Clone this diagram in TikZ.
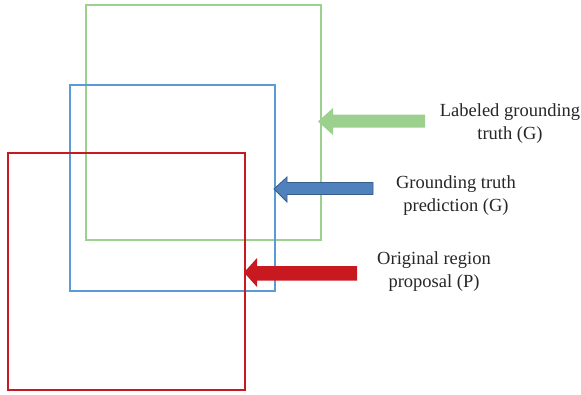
\documentclass[tikz,border=0pt]{standalone}
\usepackage{fontspec}
\setmainfont{Liberation Serif}
\definecolor{gtgreen}{RGB}{155,208,143}
\definecolor{predblue}{RGB}{91,155,213}
\definecolor{arrblue}{RGB}{79,129,189}
\definecolor{arrblueline}{RGB}{56,93,138}
\definecolor{propred}{RGB}{200,24,32}
\begin{document}
\begin{tikzpicture}[x=1pt,y=-1pt,
  box/.style={line width=2.2pt},
  lbl/.style={align=center,font=\fontsize{18.5}{23}\selectfont,text=black!85,inner sep=0pt}]
\useasboundingbox (0,0) rectangle (581,394);
% rectangles
\draw[box,gtgreen] (86,5) rectangle (321,240);
\draw[box,predblue] (70,85) rectangle (275,291);
\draw[box,propred] (8,153) rectangle (245,390);
% block arrows
\fill[gtgreen] (318,121.5) -- (333,108) -- (333,114.5) -- (425,114.5) -- (425,127.5) -- (333,127.5) -- (333,135) -- cycle;
\filldraw[fill=arrblue,draw=arrblueline,line width=0.8pt] (274,189) -- (287,177) -- (287,182.5) -- (373,182.5) -- (373,194.5) -- (287,194.5) -- (287,202) -- cycle;
\fill[propred] (244,272.5) -- (257,258) -- (257,266) -- (357,266) -- (357,280.5) -- (257,280.5) -- (257,287) -- cycle;
% labels
\node[lbl] (lg) at (510,124) {Labeled grounding\\truth (G)};
\node[lbl] (gp) at (456,196) {Grounding truth\\prediction (G)};
\node[lbl] (op) at (434,271.5) {Original region\\proposal (P)};
\end{tikzpicture}
\end{document}
